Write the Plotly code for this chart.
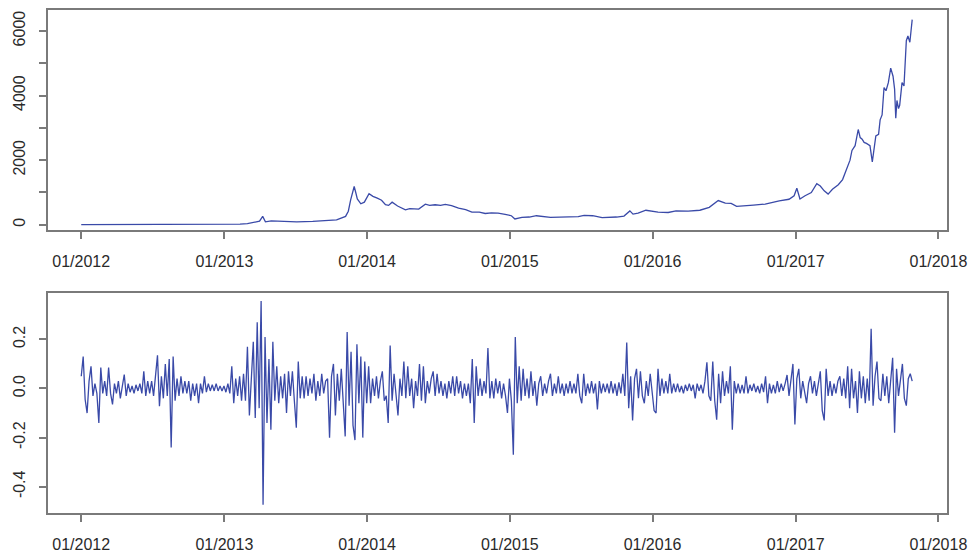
import pandas as pd
import plotly.graph_objects as go

# ---- top panel: price (USD) ----
price_dates = [
    "2012-01-01", "2012-03-01", "2012-06-01", "2012-08-15", "2012-10-15", "2012-12-15",
    "2013-01-15", "2013-02-10", "2013-03-01", "2013-03-20", "2013-04-01", "2013-04-09",
    "2013-04-16", "2013-05-01", "2013-06-01", "2013-07-05", "2013-08-15", "2013-09-15",
    "2013-10-15", "2013-11-07", "2013-11-14", "2013-11-20", "2013-11-29", "2013-12-03",
    "2013-12-07", "2013-12-16", "2013-12-25", "2014-01-06", "2014-01-16", "2014-01-27",
    "2014-02-07", "2014-02-17", "2014-02-25", "2014-03-06", "2014-03-20", "2014-04-09",
    "2014-04-20", "2014-05-13", "2014-05-30", "2014-06-10", "2014-06-24", "2014-07-08",
    "2014-07-20", "2014-08-05", "2014-08-23", "2014-09-10", "2014-09-26", "2014-10-15",
    "2014-10-30", "2014-11-15", "2014-12-02", "2014-12-20", "2015-01-05", "2015-01-14",
    "2015-02-01", "2015-02-20", "2015-03-10", "2015-04-15", "2015-05-10", "2015-06-01",
    "2015-06-25", "2015-07-10", "2015-08-01", "2015-08-25", "2015-09-15", "2015-10-01",
    "2015-10-20", "2015-11-04", "2015-11-12", "2015-11-25", "2015-12-15", "2016-01-15",
    "2016-02-10", "2016-03-01", "2016-04-01", "2016-05-01", "2016-05-25", "2016-06-10",
    "2016-06-17", "2016-07-05", "2016-07-20", "2016-08-03", "2016-08-25", "2016-09-15",
    "2016-10-15", "2016-11-05", "2016-11-20", "2016-12-15", "2016-12-28", "2017-01-04",
    "2017-01-12", "2017-01-25", "2017-02-10", "2017-02-24", "2017-03-05", "2017-03-15",
    "2017-03-25", "2017-04-05", "2017-04-20", "2017-05-01", "2017-05-10", "2017-05-20",
    "2017-05-25", "2017-06-02", "2017-06-10", "2017-06-15", "2017-06-20", "2017-06-25",
    "2017-07-01", "2017-07-10", "2017-07-16", "2017-07-20", "2017-07-25", "2017-08-01",
    "2017-08-05", "2017-08-10", "2017-08-15", "2017-08-20", "2017-08-26", "2017-09-01",
    "2017-09-07", "2017-09-11", "2017-09-14", "2017-09-17", "2017-09-21", "2017-09-24",
    "2017-09-30", "2017-10-05", "2017-10-11", "2017-10-15", "2017-10-20", "2017-10-23",
    "2017-10-26",
]
price_values = [
    5, 5, 6, 11, 12, 13,
    14, 22, 33, 70, 110, 260,
    90, 120, 110, 90, 105, 130,
    150, 260, 420, 770, 1185, 1000,
    800, 650, 700, 960, 880, 825,
    760, 620, 600, 700, 580, 465,
    500, 485, 640, 600, 620, 600,
    630, 590, 515, 470, 390, 390,
    350, 370, 360, 320, 280, 180,
    230, 240, 280, 230, 240, 230,
    250, 290, 280, 220, 230, 240,
    270, 430, 330, 360, 450, 390,
    380, 430, 420, 450, 540, 680,
    750, 670, 660, 570, 580, 610,
    640, 700, 740, 790, 900, 1130,
    800, 900, 1000, 1270, 1200, 1050,
    950, 1100, 1240, 1400, 1700, 2000,
    2300, 2450, 2950, 2700, 2650, 2550,
    2520, 2450, 1950, 2300, 2750, 2800,
    3250, 3400, 4250, 4150, 4400, 4850,
    4600, 4200, 3300, 3850, 3600, 3700,
    4400, 4300, 5700, 5850, 5650, 6000,
    6350,
]

# ---- bottom panel: log returns, read every 5 days from 2012-01-01 ----
returns = [
    0.05, 0.13, -0.045, -0.10, 0.03, 0.09,
    -0.03, 0.02, -0.02, -0.14, 0.085, -0.02,
    0.03, -0.03, 0.085, -0.02, -0.065, 0.02,
    -0.02, 0.03, -0.04, 0.02, 0.057, -0.03,
    0.02, -0.015, 0.01, -0.02, 0.015, -0.01,
    0.02, -0.02, 0.07, -0.03, 0.03, -0.02,
    0.03, -0.03, 0.04, 0.135, -0.072, 0.05,
    -0.04, 0.10, -0.03, 0.12, -0.24, 0.13,
    -0.05, 0.04, -0.03, 0.05, -0.02, 0.03,
    -0.02, 0.03, -0.05, 0.02, -0.03, 0.02,
    -0.06, 0.02, -0.02, 0.05, -0.015, 0.02,
    -0.01, 0.015, -0.01, 0.02, -0.01, 0.01,
    -0.01, 0.01, -0.015, 0.02, -0.02, 0.09,
    -0.06, 0.04, -0.03, 0.05, -0.05, 0.06,
    -0.05, 0.17, -0.11, 0.06, 0.19, -0.12,
    0.27, -0.08, 0.356, -0.473, 0.21, -0.14,
    0.12, -0.168, 0.19, -0.05, 0.09, -0.06,
    0.05, -0.04, 0.06, -0.10, 0.07, -0.03,
    0.07, -0.05, -0.16, 0.11, -0.04, 0.05,
    -0.04, 0.05, -0.03, 0.04, -0.02, 0.06,
    -0.05, 0.03, -0.03, 0.06, -0.02, 0.03,
    0.04, -0.20, 0.05, 0.10, -0.11, 0.06,
    -0.05, 0.08, -0.06, -0.195, 0.23, -0.07,
    0.15, -0.15, -0.21, 0.18, -0.06, 0.13,
    -0.20, 0.11, -0.06, 0.09, -0.06, 0.04,
    -0.03, 0.05, -0.04, 0.03, 0.07, -0.05,
    -0.03, -0.14, 0.175, -0.05, 0.06, -0.04,
    -0.11, 0.04, -0.03, 0.11, -0.04, 0.09,
    -0.03, 0.04, -0.08, 0.03, -0.03, 0.10,
    -0.05, 0.09, -0.06, 0.03, -0.02, 0.04,
    0.07, -0.03, 0.06, -0.02, 0.03, -0.03,
    0.02, -0.04, 0.03, -0.02, 0.05, -0.03,
    0.05, -0.02, 0.03, -0.04, 0.02, -0.03,
    0.02, -0.06, 0.12, -0.14, 0.09, -0.03,
    0.04, -0.03, 0.03, -0.02, 0.165, -0.04,
    0.03, -0.04, 0.04, -0.02, 0.03, -0.04,
    0.02, -0.03, -0.10, 0.04, -0.05, -0.27,
    0.21, -0.06, 0.09, -0.05, 0.08, -0.03,
    0.04, -0.04, 0.07, -0.03, 0.03, -0.07,
    0.02, 0.05, -0.03, 0.02, -0.02, 0.03,
    0.06, -0.03, 0.02, -0.02, 0.05, -0.02,
    0.02, -0.03, 0.02, -0.02, 0.03, -0.02,
    0.02, -0.02, 0.06, -0.03, -0.06, 0.06,
    -0.03, 0.02, -0.02, 0.03, -0.02, 0.02,
    -0.085, 0.03, -0.02, 0.02, -0.015, 0.02,
    -0.02, 0.03, -0.02, 0.02, -0.03, 0.025,
    -0.02, 0.06, -0.03, 0.187, -0.08, 0.05,
    -0.13, 0.04, 0.08, -0.04, 0.07, -0.03,
    -0.06, 0.03, -0.03, 0.06, -0.02, -0.09,
    -0.10, 0.08, -0.03, 0.04, -0.02, 0.03,
    -0.02, 0.06, -0.02, 0.02, -0.015, 0.02,
    -0.015, 0.01, -0.02, 0.015, -0.01, 0.02,
    -0.01, 0.015, -0.04, 0.02, -0.01, 0.015,
    -0.02, 0.03, 0.107, -0.03, -0.05, 0.11,
    -0.05, -0.127, 0.06, -0.06, 0.07, -0.03,
    0.03, -0.02, 0.09, -0.168, 0.03, -0.02,
    0.02, -0.02, 0.015, -0.02, 0.05, -0.02,
    0.015, -0.01, 0.02, -0.015, 0.01, -0.02,
    0.02, -0.015, 0.05, -0.06, 0.02, -0.02,
    0.015, -0.02, 0.03, -0.015, 0.02, -0.01,
    0.02, 0.055, -0.03, 0.03, 0.10, -0.147,
    0.04, 0.08, -0.04, 0.03, -0.02, -0.06,
    0.02, 0.05, -0.02, 0.03, -0.03, 0.02,
    0.07, -0.09, -0.13, 0.08, -0.03, 0.03,
    -0.03, 0.02, -0.02, 0.03, 0.05, -0.03,
    0.04, -0.04, 0.09, -0.08, 0.08, -0.04,
    0.03, -0.10, 0.07, -0.04, 0.05, -0.06,
    0.04, -0.05, 0.243, -0.07, 0.05, 0.11,
    -0.04, -0.05, 0.06, -0.03, 0.05, -0.06,
    0.04, 0.125, -0.18, 0.08, -0.03, 0.05,
    0.10, -0.04, -0.07, 0.04, 0.06, 0.03,
]
return_dates = pd.date_range("2012-01-01", periods=len(returns), freq="5D")

x_tick_vals = ["2012-01-01", "2013-01-01", "2014-01-01", "2015-01-01",
               "2016-01-01", "2017-01-01", "2018-01-01"]
x_tick_text = ["01/2012", "01/2013", "01/2014", "01/2015", "01/2016", "01/2017", "01/2018"]
top_y_ticks = [0, 1000, 2000, 3000, 4000, 5000, 6000]
top_y_text = ["0", "", "2000", "", "4000", "", "6000"]
bot_y_ticks = [-0.4, -0.2, 0.0, 0.2]
bot_y_text = ["-0.4", "-0.2", "0.0", "0.2"]

LINE = "#3a4aa8"
FRAME = "#7a7a7a"
FONT = dict(family="Liberation Sans, Arial, sans-serif", size=16, color="#2a2a2a")

fig = go.Figure()
fig.add_trace(go.Scatter(x=price_dates, y=price_values, mode="lines",
                         line=dict(color=LINE, width=1.3), xaxis="x", yaxis="y",
                         showlegend=False))
fig.add_trace(go.Scatter(x=return_dates, y=returns, mode="lines",
                         line=dict(color=LINE, width=1.3), xaxis="x2", yaxis="y2",
                         showlegend=False))

W, H = 975, 554
# plot area: x 48..947, y 10..513.5 ; panels split inside it
L, R, T, B = 48, W - 947, 10, H - 513.5
ph = H - T - B
top_dom = [(513.5 - 230) / ph, 1.0]
bot_dom = [0.0, (513.5 - 293) / ph]
xrange = ["2011-10-08", "2018-01-23"]

common_x = dict(type="date", range=xrange, tickmode="array", tickvals=x_tick_vals,
                ticktext=x_tick_text, ticks="outside", ticklen=7, tickwidth=1.5,
                tickcolor=FRAME, showline=True, linecolor=FRAME, linewidth=2,
                mirror=True, showgrid=False, zeroline=False, tickfont=FONT,
                ticklabelstandoff=9, automargin=False)
common_y = dict(ticks="outside", ticklen=7, tickwidth=1.5, tickcolor=FRAME,
                showline=True, linecolor=FRAME, linewidth=2, mirror=True,
                showgrid=False, zeroline=False, tickfont=FONT, tickangle=-90,
                tickmode="array", ticklabelstandoff=8, automargin=False)

fig.update_layout(
    width=W, height=H,
    margin=dict(l=L, r=R, t=T, b=B, pad=0, autoexpand=False),
    paper_bgcolor="white", plot_bgcolor="white",
    xaxis=dict(domain=[0, 1], anchor="y", **common_x),
    yaxis=dict(domain=top_dom, anchor="x", range=[-155, 6650],
               tickvals=top_y_ticks, ticktext=top_y_text, **common_y),
    xaxis2=dict(domain=[0, 1], anchor="y2", **common_x),
    yaxis2=dict(domain=bot_dom, anchor="x2", range=[-0.507, 0.39],
                tickvals=bot_y_ticks, ticktext=bot_y_text, **common_y),
)

# remove the browser's default 8px page margin so the figure sits at the window corner
fig.write_html("out.html", config={"displayModeBar": False},
               post_script="document.body.style.margin='0';document.body.style.overflow='hidden';")
